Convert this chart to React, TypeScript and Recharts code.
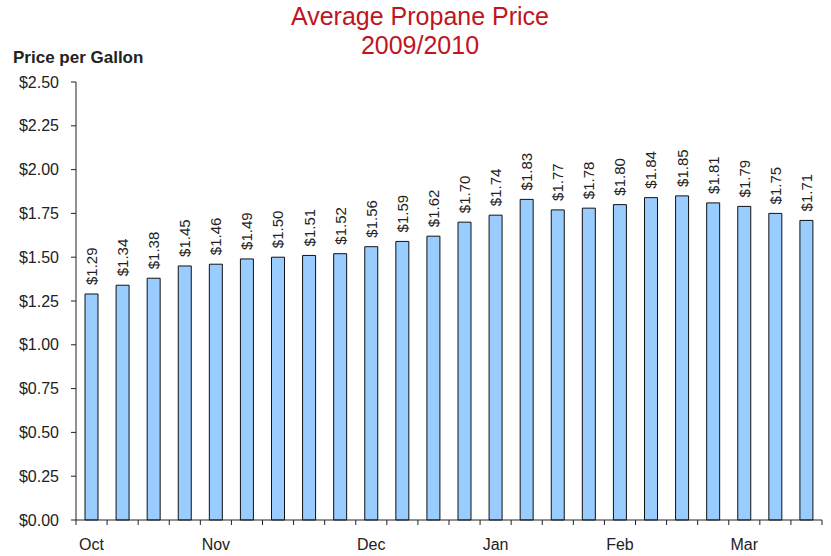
import React from 'react';
import { Bar, BarChart, LabelList, XAxis, YAxis } from 'recharts';

// weekly average propane price, Oct 2009 - Mar 2010
const weeks = [
  'Oct', 'w2', 'w3', 'w4', 'Nov', 'w6', 'w7', 'w8', 'w9', 'Dec', 'w11', 'w12',
  'w13', 'Jan', 'w15', 'w16', 'w17', 'Feb', 'w19', 'w20', 'w21', 'Mar', 'w23', 'w24',
];
const prices = [
  1.29, 1.34, 1.38, 1.45, 1.46, 1.49, 1.5, 1.51, 1.52, 1.56, 1.59, 1.62,
  1.7, 1.74, 1.83, 1.77, 1.78, 1.8, 1.84, 1.85, 1.81, 1.79, 1.75, 1.71,
];
const monthLabels = ['Oct', 'Nov', 'Dec', 'Jan', 'Feb', 'Mar'];
const yTicks = [0, 0.25, 0.5, 0.75, 1, 1.25, 1.5, 1.75, 2, 2.25, 2.5];

const data = weeks.map((w, i) => ({ week: w, price: prices[i] }));

const W = 831;
const H = 556;
const margin = { top: 82, right: 9, bottom: 0, left: 0 };
const yAxisWidth = 76;
const xAxisHeight = 36;
const bandWidth = (W - margin.left - margin.right - yAxisWidth) / weeks.length;
const FONT = '"Liberation Sans", Arial, sans-serif';

// month name under its week, small tick marks on the week boundaries
const MonthTick = (props: any) => {
  const { x, y, payload, index } = props;
  const label = monthLabels.includes(payload.value) ? payload.value : '';
  const left = x - bandWidth / 2;
  const right = x + bandWidth / 2;
  return (
    <g>
      <line x1={left} y1={y} x2={left} y2={y + 5} stroke="#222" />
      {index === weeks.length - 1 && <line x1={right} y1={y} x2={right} y2={y + 5} stroke="#222" />}
      <text x={x} y={y + 19} dy="0.71em" textAnchor="middle" fill="#222" fontSize={16} fontFamily={FONT}>
        {label}
      </text>
    </g>
  );
};

const PriceLabel = (props: any) => {
  const { x, y, width, value } = props;
  const cx = x + width / 2;
  const cy = y - 9;
  return (
    <text
      x={cx}
      y={cy}
      transform={`rotate(-90 ${cx} ${cy})`}
      textAnchor="start"
      dominantBaseline="central"
      fill="#222"
      fontSize={15}
      fontFamily={FONT}
    >
      {`$${value.toFixed(2)}`}
    </text>
  );
};

export default function App() {
  return (
    <div style={{ position: 'absolute', left: 0, top: 0, width: W, height: H, background: '#fff', fontFamily: FONT }}>
      <div
        style={{
          position: 'absolute',
          left: 0,
          top: 2,
          width: 840,
          textAlign: 'center',
          color: '#c0141e',
          fontSize: 25,
          lineHeight: '29px',
        }}
      >
        Average Propane Price
        <br />
        2009/2010
      </div>
      <div style={{ position: 'absolute', left: 13, top: 48, fontSize: 17, fontWeight: 'bold', color: '#222' }}>
        Price per Gallon
      </div>
      <BarChart width={W} height={H} data={data} margin={margin} barSize={13}>
        <XAxis
          dataKey="week"
          interval={0}
          height={xAxisHeight}
          tickLine={false}
          tickSize={0}
          tickMargin={0}
          tick={<MonthTick />}
          stroke="#222"
        />
        <XAxis xAxisId="top" dataKey="week" orientation="top" height={0} tick={false} tickLine={false} stroke="#999" />
        <YAxis
          domain={[0, 2.5]}
          ticks={yTicks}
          width={yAxisWidth}
          tickSize={5}
          tickMargin={12}
          stroke="#222"
          tick={{ fill: '#222', fontSize: 16, fontFamily: FONT }}
          tickFormatter={(v: number) => `$${v.toFixed(2)}`}
          interval={0}
        />
        <YAxis yAxisId="right" orientation="right" width={0} tick={false} tickLine={false} stroke="#999" />
        <Bar dataKey="price" fill="#99ccff" stroke="#111" strokeWidth={1} isAnimationActive={false}>
          <LabelList dataKey="price" content={<PriceLabel />} />
        </Bar>
      </BarChart>
    </div>
  );
}
